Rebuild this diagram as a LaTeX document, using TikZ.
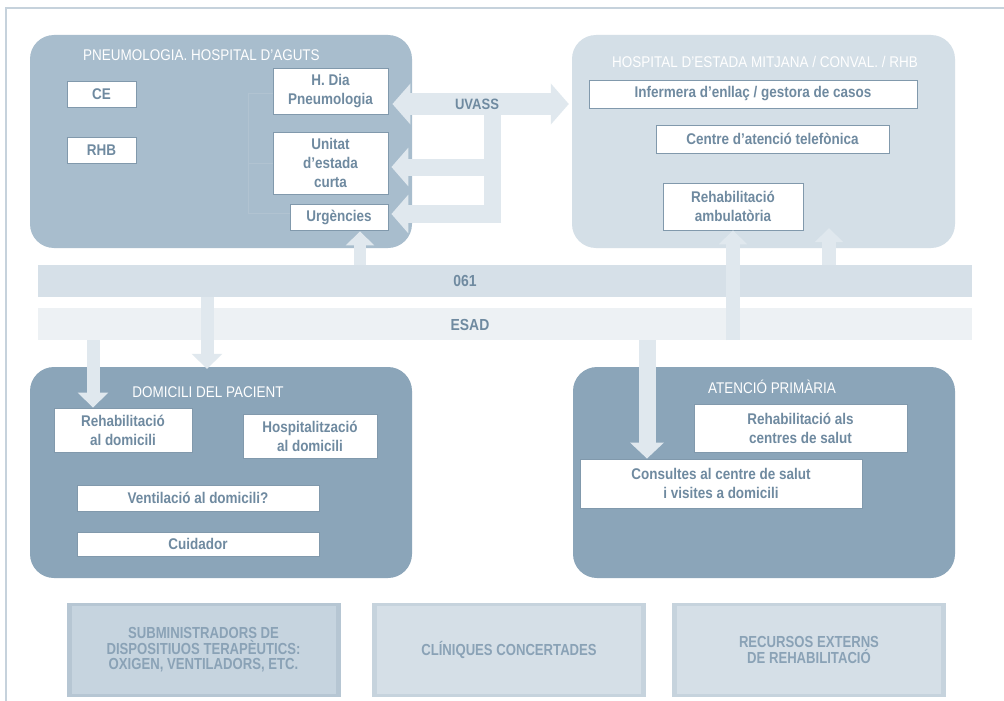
\documentclass[tikz,border=0pt]{standalone}
\usepackage{fontspec}
\setmainfont{Liberation Sans}[FakeStretch=0.87]
\newfontfamily\condfont{Liberation Sans}[FakeStretch=0.82]
\usetikzlibrary{arrows.meta,calc}
\definecolor{boxA}{HTML}{A8BDCD}
\definecolor{boxB}{HTML}{D4DFE7}
\definecolor{boxC}{HTML}{8BA5B9}
\definecolor{txt}{HTML}{6F8AA0}
\definecolor{arr}{HTML}{E0E8EE}
\definecolor{bandA}{HTML}{D6E0E8}
\definecolor{bandB}{HTML}{EDF1F4}
\definecolor{framec}{HTML}{C6D2DC}
\definecolor{wbord}{HTML}{8199AC}
\definecolor{faint}{HTML}{B1C3D1}
\definecolor{extA}{HTML}{B6C6D3}
\definecolor{extAin}{HTML}{C6D4DF}
\definecolor{extB}{HTML}{C6D3DD}
\definecolor{extBin}{HTML}{D5DFE7}
\definecolor{exttxt}{HTML}{8AA2B6}
\begin{document}
\begin{tikzpicture}[x=1pt,y=-1pt,
  bigbox/.style={rounded corners=24pt, inner sep=0pt},
  wbox/.style={draw=wbord, fill=white, line width=0.9pt, text=txt,
    font=\fontsize{15.5}{19}\selectfont\bfseries, align=center, inner sep=0pt},
  title/.style={text=white, font=\fontsize{15.5}{17}\selectfont, inner sep=0pt},
  band/.style={inner sep=0pt, minimum width=934pt, minimum height=32pt},
  bandtext/.style={text=txt, font=\fontsize{16}{18}\selectfont\bfseries, inner sep=0pt},
  blockarrow/.style={arr, line width=#1},
  exttext/.style={text=exttxt, font=\condfont\fontsize{16}{15.5}\selectfont\bfseries, align=center, inner sep=0pt}
]
\useasboundingbox (0,0) rectangle (1004,701);
\fill[white] (0,0) rectangle (1004,701);
% frame
\draw[framec, line width=1.6pt] (6,701) -- (6,8) -- (1004,8);

% bands
\node[band, fill=bandA] (b061) at (505,281) {};
\node[band, fill=bandB] (besad) at (505,324) {};

% big boxes
\node[bigbox, fill=boxA, minimum width=382pt, minimum height=213pt] (pneu) at (221,141.5) {};
\node[bigbox, fill=boxB, minimum width=383pt, minimum height=213pt] (hem) at (763.5,141.5) {};
\node[bigbox, fill=boxC, minimum width=382pt, minimum height=211pt] (dom) at (221,472.5) {};
\node[bigbox, fill=boxC, minimum width=382pt, minimum height=211pt] (ap) at (764,472.5) {};

% titles
\node[title, anchor=west] (tpneu) at (83,55) {PNEUMOLOGIA. HOSPITAL D'AGUTS};
\node[title] (them) at (765,62) {HOSPITAL D'ESTADA MITJANA / CONVAL. / RHB};
\node[title] (tdom) at (208,392) {DOMICILI DEL PACIENT};
\node[title] (tap) at (772,387) {ATENCIÓ PRIMÀRIA};

% faint bracket lines in pneumologia
\draw[faint, line width=0.8pt] (273,93) -- (248,93) -- (248,213) -- (290,213);
\draw[faint, line width=0.8pt] (248,163) -- (273,163);

% boxes in pneumologia
\node[wbox, minimum width=69pt, minimum height=26pt] (ce) at (101.5,94) {CE};
\node[wbox, minimum width=69pt, minimum height=26pt] (rhb) at (101.5,150) {RHB};
\node[wbox, minimum width=115pt, minimum height=46pt] (hdia) at (330.5,91) {H. Dia\\Pneumologia};
\node[wbox, minimum width=115pt, minimum height=62pt] (uec) at (330.5,163) {Unitat\\d'estada\\curta};
\node[wbox, minimum width=98pt, minimum height=26pt] (urg) at (339,217) {Urgències};

% boxes in hospital d'estada mitjana
\node[wbox, minimum width=328pt, minimum height=28pt] (inf) at (753,94) {Infermera d'enllaç / gestora de casos};
\node[wbox, minimum width=233pt, minimum height=28pt] (cat) at (772.5,139) {Centre d'atenció telefònica};
\node[wbox, minimum width=140pt, minimum height=47pt] (ramb) at (733,206.5) {Rehabilitació\\ambulatòria};

% boxes in domicili
\node[wbox, minimum width=138pt, minimum height=44pt] (rdom) at (123,430) {Rehabilitació\\al domicili};
\node[wbox, minimum width=134pt, minimum height=44pt] (hdom) at (310,436) {Hospitalització\\al domicili};
\node[wbox, minimum width=242pt, minimum height=26pt] (vent) at (198,498) {Ventilació al domicili?};
\node[wbox, minimum width=242pt, minimum height=24pt] (cuid) at (198,544) {Cuidador};

% boxes in atencio primaria
\node[wbox, minimum width=213pt, minimum height=48pt] (rcs) at (800.5,428) {Rehabilitació als\\centres de salut};
\node[wbox, minimum width=282pt, minimum height=49pt] (cons) at (721,483.5) {Consultes al centre de salut\\i visites a domicili};

% UVASS connectors
\coordinate (uvL) at (hdia.east |- 0,104);
\coordinate (uvR) at (hem.west |- 0,104);
\draw[blockarrow=22pt, {Triangle[width=40pt,length=18pt]}-{Triangle[width=40pt,length=18pt]}] ([xshift=4pt]uvL) -- ([xshift=-3pt]uvR);
\fill[arr] (484,115) rectangle (501,223);
\coordinate (u2) at (501,167);
\coordinate (u3) at (501,214);
\draw[blockarrow=17pt, -{Triangle[width=38pt,length=17pt]}] (u2) -- ([xshift=3pt]uec.east |- u2);
\draw[blockarrow=18pt, -{Triangle[width=38pt,length=17pt]}] (u3) -- ([xshift=3pt]urg.east |- u3);
\node[bandtext, font=\fontsize{15}{16}\selectfont\bfseries] (uvass) at (477,104) {UVASS};

% vertical arrows from bands
\coordinate (x1) at (360,0);
\coordinate (x2) at (733,0);
\coordinate (x3) at (829,0);
\coordinate (x4) at (207,0);
\coordinate (x5) at (93,0);
\coordinate (x6) at (647,0);
\draw[blockarrow=12pt, -{Triangle[width=28pt,length=14pt]}] (b061.north -| x1) -- ([yshift=-1pt]urg.south -| x1);
\draw[blockarrow=14pt, -{Triangle[width=28pt,length=14pt]}] (besad.south -| x2) -- (ramb.south -| x2);
\draw[blockarrow=14pt, -{Triangle[width=28pt,length=14pt]}] (b061.north -| x3) -- ([yshift=20pt]hem.south -| x3);
\draw[blockarrow=13pt, -{Triangle[width=30pt,length=15pt]}] (b061.south -| x4) -- ([yshift=-2pt]dom.north -| x4);
\draw[blockarrow=13pt, -{Triangle[width=30pt,length=15pt]}] (besad.south -| x5) -- (rdom.north -| x5);
\draw[blockarrow=17pt, -{Triangle[width=33pt,length=16pt]}] (besad.south -| x6) -- (cons.north -| x6);

% band labels
\node[bandtext] (l061) at (465,281) {061};
\node[bandtext] (lesad) at (470,325) {ESAD};

% external resources
\foreach \nm/\cx/\ec/\ic in {exa/203.5/extA/extAin, exb/509/extB/extBin, exc/809/extB/extBin}{
  \fill[\ec] (\cx-137,603) rectangle (\cx+137,697);
  \fill[\ic] (\cx-132,606) rectangle (\cx+132,694);
}
\node[exttext] (ea) at (203.5,650) {SUBMINISTRADORS DE\\DISPOSITIUOS TERAPÈUTICS:\\OXIGEN, VENTILADORS, ETC.};
\node[exttext] (eb) at (509,650) {CLÍNIQUES CONCERTADES};
\node[exttext] (ec) at (809,650) {RECURSOS EXTERNS\\DE REHABILITACIÓ};
\end{tikzpicture}
\end{document}
